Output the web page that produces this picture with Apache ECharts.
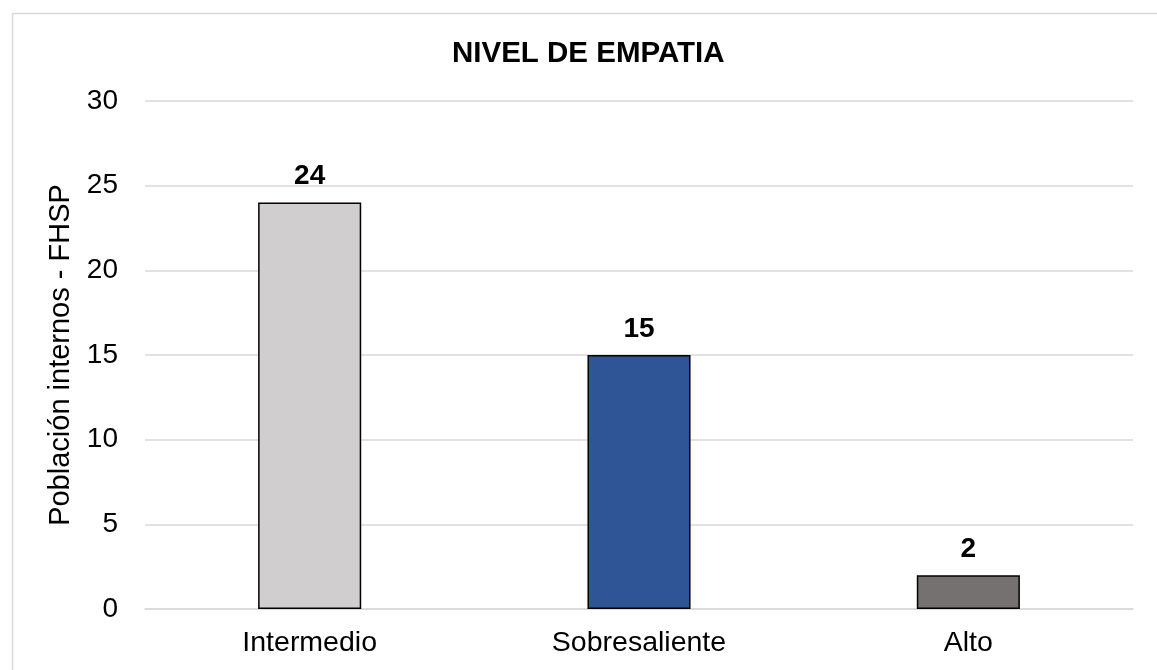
<!DOCTYPE html>
<html>
<head>
<meta charset="utf-8">
<script src="https://cdn.jsdelivr.net/npm/echarts@6/dist/echarts.min.js"></script>
<style>
html,body{margin:0;padding:0;background:#fff;}
#chart{width:1157px;height:670px;}
</style>
</head>
<body>
<div id="chart"></div>
<script>
const title = 'NIVEL DE EMPATIA';
const yAxisName = 'Población internos - FHSP';
const categories = ['Intermedio', 'Sobresaliente', 'Alto'];
const values = [24, 15, 2];
const barColors = ['#d0cece', '#2f5597', '#767171'];
const yMin = 0, yMax = 30, yInterval = 5;

const font = '"Liberation Sans", Arial, sans-serif';
const chart = echarts.init(document.getElementById('chart'), null, {renderer: 'canvas'});
chart.setOption({
  backgroundColor: '#ffffff',
  animation: false,
  graphic: [{
    type: 'rect',
    shape: {x: 12.5, y: 13.5, width: 1200, height: 700},
    style: {fill: 'none', stroke: '#d9d9d9', lineWidth: 1.5},
    silent: true
  }],
  title: {
    text: title,
    left: 452,
    top: 39,
    padding: 0,
    textStyle: {fontFamily: font, fontSize: 29.5, fontWeight: 'bold', color: '#000'}
  },
  grid: {left: 145, right: 24, top: 101, bottom: 61, containLabel: false},
  xAxis: {
    type: 'category',
    data: categories,
    axisLine: {show: true, lineStyle: {color: '#d9d9d9', width: 1.5}},
    axisTick: {show: false},
    axisLabel: {fontFamily: font, fontSize: 28.5, color: '#000', margin: 20}
  },
  yAxis: {
    type: 'value',
    min: yMin, max: yMax, interval: yInterval,
    name: yAxisName,
    nameLocation: 'middle',
    nameGap: 70,
    nameTextStyle: {fontFamily: font, fontSize: 29, color: '#000'},
    axisLine: {show: false},
    axisTick: {show: false},
    splitLine: {lineStyle: {color: '#d9d9d9', width: 1.5}},
    axisLabel: {fontFamily: font, fontSize: 28, color: '#000', margin: 27}
  },
  series: [{
    type: 'bar',
    barWidth: '31.3%',
    data: values.map((v, i) => ({value: v, itemStyle: {color: barColors[i]}})),
    itemStyle: {borderColor: '#000', borderWidth: 1.5},
    label: {
      show: true, position: 'top', distance: 12,
      fontFamily: font, fontSize: 28, fontWeight: 'bold', color: '#000'
    }
  }]
});
</script>
</body>
</html>
